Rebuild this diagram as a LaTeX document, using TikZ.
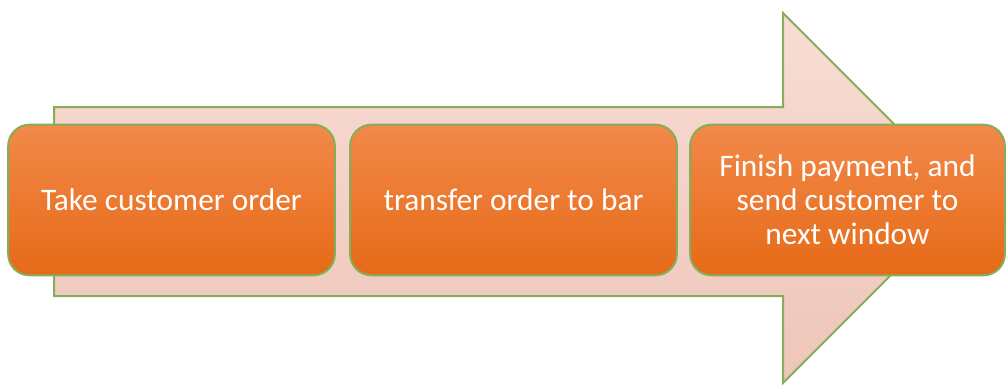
\documentclass[tikz,border=0pt]{standalone}
\usepackage{fontspec}
\setmainfont{Carlito}
\usetikzlibrary{positioning}

\definecolor{leafgreen}{HTML}{86AE5A}
\definecolor{boxtop}{HTML}{F2894A}
\definecolor{boxbottom}{HTML}{E66A17}
\definecolor{arrowtop}{HTML}{F8DDD4}
\definecolor{arrowbottom}{HTML}{EEC5B9}

\begin{document}
\begin{tikzpicture}[x=0.75pt,y=-0.75pt]
            \useasboundingbox (0,0) rectangle (1007,387);

            % big process arrow behind the steps
            \draw[leafgreen, line width=1.5pt, line join=miter,
                  top color=arrowtop, bottom color=arrowbottom]
                (54,107) -- (783,107) -- (783,13) -- (968,198)
                -- (783,383) -- (783,296) -- (54,296) -- cycle;

            \begin{scope}[every node/.style={draw=leafgreen, line width=1.5pt,
                              rounded corners=16pt, top color=boxtop,
                              bottom color=boxbottom, text=white,
                              minimum height=113pt, align=center,
                              font=\fontsize{23.5}{25.5}\selectfont}]
                \node[minimum width=245pt] (take) at (171.5,200) {Take customer order};
                \node[minimum width=245pt] (transfer) at (513.5,200) {transfer order to bar};
                \node[minimum width=236pt] (finish) at (847.5,200)
                    {Finish payment, and\\send customer to\\next window};
            \end{scope}

            \end{tikzpicture}
\end{document}
